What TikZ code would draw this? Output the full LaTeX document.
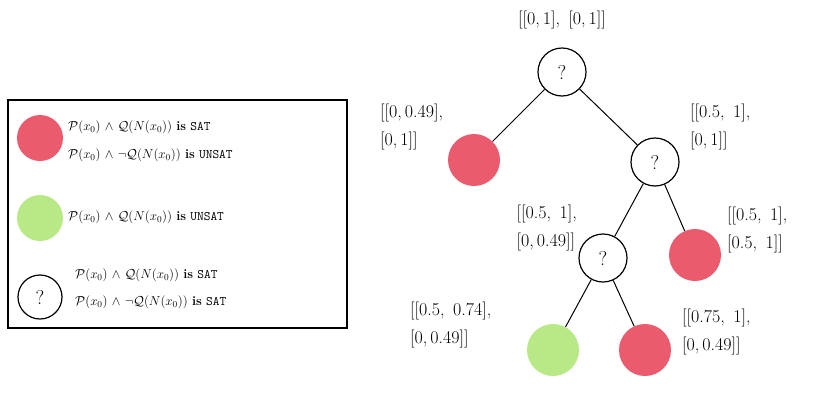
\RequirePackage{fix-cm}
\documentclass[tikz,border=0pt]{standalone}
\usepackage{amsmath}
\begin{document}
\begin{tikzpicture}[x=1pt,y=-1pt]
\definecolor{myred}{HTML}{EB5B6E}
\definecolor{mygreen}{HTML}{B9E986}
\tikzset{redn/.style={circle,fill=myred,minimum size=52pt,inner sep=0},
greenn/.style={circle,fill=mygreen,minimum size=52pt,inner sep=0},
qn/.style={circle,draw,line width=1.2pt,minimum size=48pt,inner sep=0,font=\fontsize{20}{22}\selectfont},
lab/.style={align=left,font=\fontsize{18}{28}\selectfont,inner sep=0},
leg/.style={anchor=west,inner sep=0,font=\fontsize{13}{14}\selectfont},
edge/.style={line width=1pt}}
\useasboundingbox (0,0) rectangle (830,410);
\draw[line width=2.5pt] (8,100) rectangle (347,328);
\node[redn,minimum size=46pt] (l1) at (40,138) {};
\node[greenn,minimum size=46pt] (l2) at (40,218) {};
\node[qn,minimum size=44pt] (l3) at (40,297) {?};
\newcommand{\PP}{$\mathcal{P}(x_0)\ \wedge\ $}
\node[leg] (t1) at (68,127) {\PP$\mathcal{Q}(N(x_0))$ \textbf{is} \texttt{SAT}};
\node[leg] (t2) at (68,155) {\PP$\neg\mathcal{Q}(N(x_0))$ \textbf{is} \texttt{UNSAT}};
\node[leg] (t3) at (68,217) {\PP$\mathcal{Q}(N(x_0))$ \textbf{is} \texttt{UNSAT}};
\node[leg] (t4) at (75,275) {\PP$\mathcal{Q}(N(x_0))$ \textbf{is} \texttt{SAT}};
\node[leg] (t5) at (75,302) {\PP$\neg\mathcal{Q}(N(x_0))$ \textbf{is} \texttt{SAT}};
% tree
\node[qn] (r) at (562,72) {?};
\node[redn] (a) at (474,160) {};
\node[qn] (b) at (655,162) {?};
\node[qn] (c) at (603,258) {?};
\node[redn] (d) at (695,255) {};
\node[greenn] (e) at (553,350) {};
\node[redn] (f) at (645,350) {};
\draw[edge] (r)--(a); \draw[edge] (r)--(b);
\draw[edge] (b)--(c); \draw[edge] (b)--(d);
\draw[edge] (c)--(e); \draw[edge] (c)--(f);
\node[lab] (lr) at (562,20) {[[0,\,1],\ \,[0,\,1]]};
\node[lab,anchor=north west] (la) at (380,104) {[[0,\,0.49],\\{}[0,\,1]]};
\node[lab,anchor=north west] (lb) at (690,104) {[[0.5,\ \,1],\\{}[0,\,1]]};
\node[lab,anchor=north east] (lc) at (577,205) {[[0.5,\ \,1],\\{}[0,\,0.49]]};
\node[lab,anchor=north west] (ld) at (727,207) {[[0.5,\ \,1],\\{}[0.5,\ \,1]]};
\node[lab,anchor=north west] (le) at (410,302) {[[0.5,\ \,0.74],\\{}[0,\,0.49]]};
\node[lab,anchor=north west] (lf) at (682,309) {[[0.75,\ \,1],\\{}[0,\,0.49]]};
\end{tikzpicture}
\end{document}
